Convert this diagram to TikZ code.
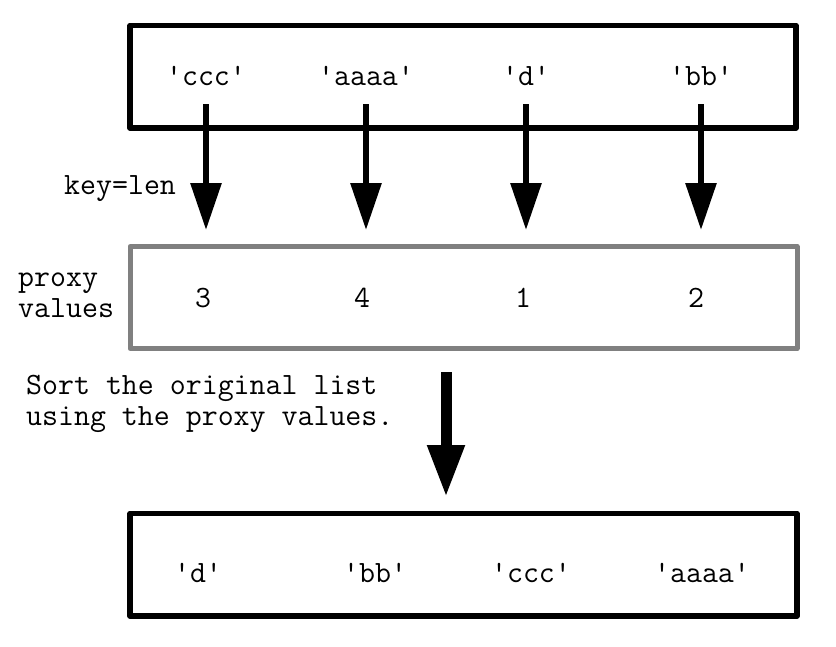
\documentclass[tikz,border=0pt]{standalone}
\usetikzlibrary{arrows.meta}
\tikzset{
  txt/.style={font=\ttfamily\fontsize{31}{31}\selectfont, inner sep=0pt},
  lbl/.style={txt, anchor=base},
  side/.style={txt, align=left},
  blackbox/.style={draw=black, line width=5.5pt, line join=round, inner sep=0pt},
  graybox/.style={draw=black!50, line width=5pt, line join=round, inner sep=0pt},
  maparrow/.style={line width=6pt, -{Triangle[length=47pt,width=30pt]}},
  bigarrow/.style={line width=11pt, -{Triangle[length=52pt,width=35pt]}}
}
\begin{document}
\begin{tikzpicture}[x=1pt,y=-1pt]
\useasboundingbox (0,0) rectangle (836,646);
% boxes
\node[blackbox, minimum width=666pt, minimum height=102.5pt] (topbox) at (463,76.75) {};
\node[graybox, minimum width=667pt, minimum height=102pt] (midbox) at (463.5,297.5) {};
\node[blackbox, minimum width=667pt, minimum height=102.5pt] (botbox) at (463.5,564.75) {};
% top labels
\node[lbl] (t1) at (206,85) {'ccc'};
\node[lbl] (t2) at (366,85) {'aaaa'};
\node[lbl] (t3) at (526,85) {'d'};
\node[lbl] (t4) at (701,85) {'bb'};
% proxy values
\node[lbl] (m1) at (203,307) {3};
\node[lbl] (m2) at (362,307) {4};
\node[lbl] (m3) at (523,307) {1};
\node[lbl] (m4) at (696,307) {2};
% bottom labels
\node[lbl] (b1) at (198,582) {'d'};
\node[lbl] (b2) at (375,582) {'bb'};
\node[lbl] (b3) at (531,582) {'ccc'};
\node[lbl] (b4) at (702,582) {'aaaa'};
% side texts
\node[lbl, anchor=base west] (key) at (64,194) {key=len};
\node[side, anchor=north west] (proxy) at (18,273) {proxy\\values};
\node[side, anchor=north west] (sort) at (26,375) {Sort the original list\\using the proxy values.};
% arrow anchors
\coordinate (s1) at (206,104); \coordinate (e1) at (206,230);
\coordinate (s2) at (366,104); \coordinate (e2) at (366,230);
\coordinate (s3) at (526,104); \coordinate (e3) at (526,230);
\coordinate (s4) at (701,104); \coordinate (e4) at (701,230);
\coordinate (bs) at (446,372); \coordinate (be) at (446,497);
\draw[maparrow] (s1) -- (e1);
\draw[maparrow] (s2) -- (e2);
\draw[maparrow] (s3) -- (e3);
\draw[maparrow] (s4) -- (e4);
\draw[bigarrow] (bs) -- (be);
\end{tikzpicture}
\end{document}
